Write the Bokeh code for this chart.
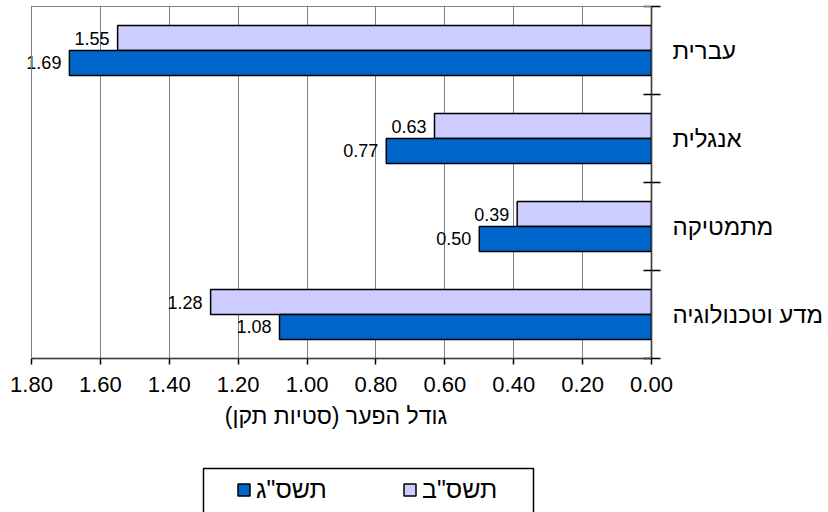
from bokeh.plotting import figure
from bokeh.layouts import column
from bokeh.models import (Range1d, LinearAxis, FixedTicker, NumeralTickFormatter,
                          ColumnDataSource, Legend, LegendItem, CustomJSTickFormatter,
                          BoxAnnotation)
from bokeh.embed import file_html
from bokeh.resources import INLINE
from bokeh.core.properties import value

# ---- data ----
categories = ["עברית", "אנגלית", "מתמטיקה", "מדע וטכנולוגיה"]   # top to bottom
series_names = ['תשס"ב', 'תשס"ג']
values_tashsab = [1.55, 0.63, 0.39, 1.28]
values_tashsag = [1.69, 0.77, 0.50, 1.08]
x_ticks = [1.80, 1.60, 1.40, 1.20, 1.00, 0.80, 0.60, 0.40, 0.20, 0.00]
x_axis_title = "גודל הפער (סטיות תקן)"

FONT = "Liberation Sans"
LIGHT = "#CCCCFF"
DARK = "#0066CC"
GRID = "#808080"

n = len(categories)
centers = [n - 0.5 - i for i in range(n)]
bar_h = 0.285
off = 0.142

# a little room left of the 1.80 border so the value labels are not clipped
x_lo, x_hi = x_ticks[-1], x_ticks[0]
x_pad = 11 * (x_hi - x_lo) / 620
y_pad = n / 352

src_light = ColumnDataSource(dict(y=[c + off for c in centers], x=values_tashsab,
                                  lab=["%.2f" % v for v in values_tashsab]))
src_dark = ColumnDataSource(dict(y=[c - off for c in centers], x=values_tashsag,
                                 lab=["%.2f" % v for v in values_tashsag]))

p = figure(width=828, height=450, output_backend="svg", toolbar_location=None,
           x_range=Range1d(x_hi + x_pad, x_lo), y_range=Range1d(0, n + y_pad),
           y_axis_location="right",
           min_border_left=20, min_border_right=177, min_border_top=5, min_border_bottom=92)
p.background_fill_color = "white"
p.border_fill_color = "white"
p.outline_line_color = None

# plot-area border (gray) around the data area
p.add_layout(BoxAnnotation(left=x_hi, right=x_lo, bottom=0, top=n,
                           fill_color=None, fill_alpha=0,
                           line_color=GRID, line_alpha=1, line_width=1))

# grid
p.xgrid.ticker = FixedTicker(ticks=x_ticks)
p.xgrid.grid_line_color = GRID
p.ygrid.grid_line_color = None

r_light = p.hbar(y="y", left=0, right="x", height=bar_h, source=src_light,
                 fill_color=LIGHT, line_color="black", line_width=1.5)
r_dark = p.hbar(y="y", left=0, right="x", height=bar_h, source=src_dark,
                fill_color=DARK, line_color="black", line_width=1.5)

for s in (src_light, src_dark):
    p.text(x="x", y="y", text="lab", source=s, text_align="right", text_baseline="middle",
           x_offset=-8, text_font=value(FONT), text_font_size="18px", text_color="black")

# bottom axis
xa = p.xaxis[0]
xa.bounds = (x_lo, x_hi)
xa.ticker = FixedTicker(ticks=x_ticks)
xa.formatter = NumeralTickFormatter(format="0.00")
xa.major_tick_in = 0
xa.major_tick_out = 6
xa.minor_tick_out = 0
xa.minor_tick_in = 0
xa.axis_line_color = "black"
xa.axis_line_width = 1.5
xa.major_tick_line_color = "black"
xa.major_tick_line_width = 1.5
xa.major_label_text_font = FONT
xa.major_label_text_font_size = "22px"
xa.major_label_text_color = "black"
xa.major_label_standoff = 12
xa.axis_label = x_axis_title
xa.axis_label_text_font = FONT
xa.axis_label_text_font_size = "23px"
xa.axis_label_text_font_style = "normal"
xa.axis_label_text_color = "black"
xa.axis_label_standoff = 8

# right axis: ticks at category boundaries
ya = p.yaxis[0]
ya.bounds = (0, n)
ya.ticker = FixedTicker(ticks=list(range(n + 1)))
ya.formatter = CustomJSTickFormatter(code="return ''")
ya.major_tick_in = 8
ya.major_tick_out = 9
ya.minor_tick_in = 0
ya.minor_tick_out = 0
ya.major_label_standoff = 0
ya.axis_line_color = "black"
ya.axis_line_width = 1.5
ya.major_tick_line_color = "black"
ya.major_tick_line_width = 1.5

# right axis: category labels
la = LinearAxis(ticker=FixedTicker(ticks=centers),
                major_label_overrides={c: name for c, name in zip(centers, categories)})
la.major_tick_in = 0
la.major_tick_out = 0
la.minor_tick_in = 0
la.minor_tick_out = 0
la.axis_line_color = None
la.major_label_standoff = 12
la.major_label_text_font = FONT
la.major_label_text_font_size = "24px"
la.major_label_text_color = "black"
p.add_layout(la, "right")

# ---- legend strip below the chart (its frame is aligned with the chart's: 20..651 px) ----
strip_h = 62
pl = figure(width=828, height=strip_h, output_backend="svg", toolbar_location=None,
            x_range=Range1d(20, 651), y_range=Range1d(0, strip_h),
            x_axis_location=None, y_axis_location=None,
            min_border_left=0, min_border_right=0, min_border_top=0, min_border_bottom=0)
pl.outline_line_color = None
pl.xgrid.visible = False
pl.ygrid.visible = False
nan = float("nan")
lg_light = pl.hbar(y=[nan], left=[nan], right=[nan], height=0.5, fill_color=LIGHT,
                   line_color="black", line_width=1.5)
lg_dark = pl.hbar(y=[nan], left=[nan], right=[nan], height=0.5, fill_color=DARK,
                  line_color="black", line_width=1.5)

# legend frame box (bottom runs off the page, as in the original)
pl.add_layout(BoxAnnotation(left=203, right=533, top=strip_h - 18, bottom=-20,
                            fill_color="white", fill_alpha=1,
                            line_color="black", line_alpha=1, line_width=1.5))

legend = Legend(items=[LegendItem(label=series_names[1], renderers=[lg_dark]),
                       LegendItem(label=series_names[0], renderers=[lg_light])],
                orientation="horizontal", location=(216, 8))
legend.border_line_color = None
legend.background_fill_alpha = 0
legend.label_text_font = FONT
legend.label_text_font_size = "25px"
legend.label_text_color = "black"
legend.glyph_width = 15
legend.glyph_height = 15
legend.label_standoff = 5
legend.label_width = 93
legend.spacing = 53
legend.padding = 13
legend.margin = 0
pl.add_layout(legend, "center")

layout = column(p, pl, spacing=0)
open("out.html", "w").write(file_html(layout, INLINE))
